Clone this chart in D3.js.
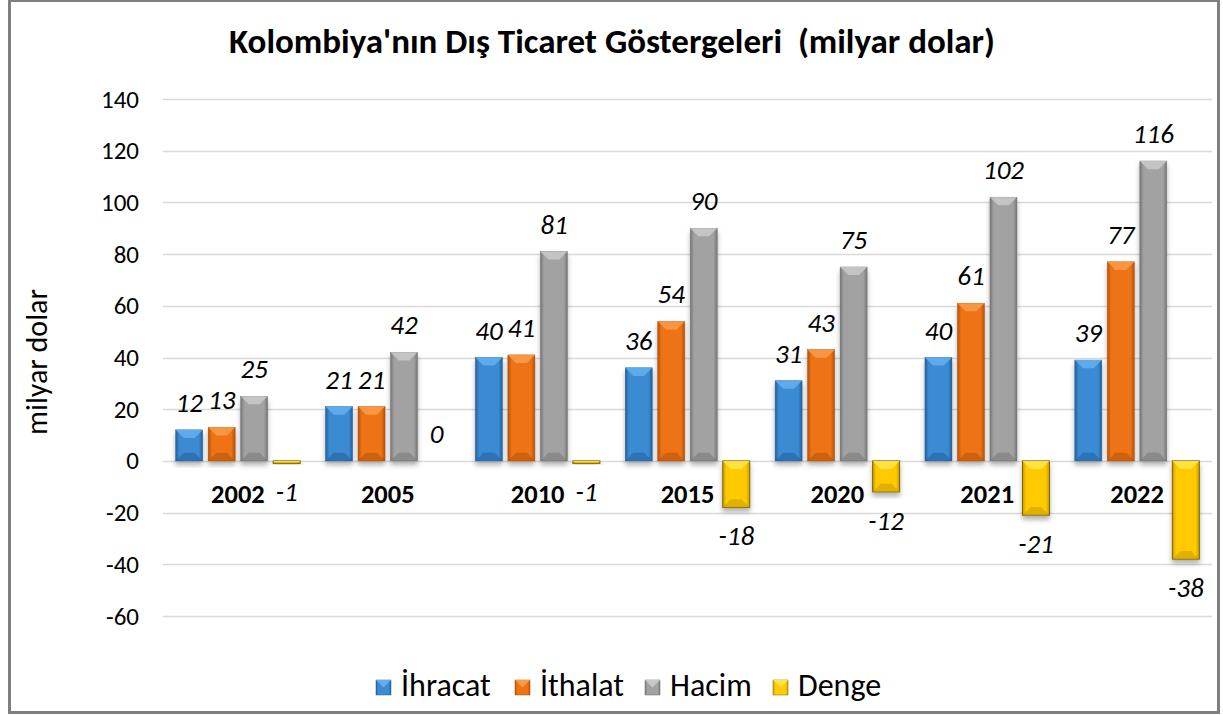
<!DOCTYPE html>
<html>
<head>
  <meta charset="utf-8">
  <title>Kolombiya'nın Dış Ticaret Göstergeleri</title>
  <script src="https://d3js.org/d3.v7.min.js"></script>
  <style>
    body { margin: 0; background: #fff; }
    text { font-family: Carlito, Calibri, Lato, sans-serif; }
  </style>
</head>
<body>

<div id="chart"></div>

<script>
// Data
const years = ["2002", "2005", "2010", "2015", "2020", "2021", "2022"];
const seriesNames = ["İhracat", "İthalat", "Hacim", "Denge"];
const ihracat = [12, 21, 40, 36, 31, 40, 39];
const ithalat = [13, 21, 41, 54, 43, 61, 77];
const hacim = [25, 42, 81, 90, 75, 102, 116];
const denge = [-1, 0, -1, -18, -12, -21, -38];
const yTicks = [-60, -40, -20, 0, 20, 40, 60, 80, 100, 120, 140];

const seriesValues = [ihracat, ithalat, hacim, denge];
const colors = [
  { base: "#3b8bd2", light: "#62aeee", dark: "#235f9c", edge: "#2a5f93" },
  { base: "#ee7312", light: "#fa9a48", dark: "#b5520a", edge: "#a84e0c" },
  { base: "#a2a2a2", light: "#c8c8c8", dark: "#777777", edge: "#6e6e6e" },
  { base: "#ffcb00", light: "#ffe347", dark: "#c89c00", edge: "#806300" }
];

const W = 1223, H = 715;
const plot = { left: 163, right: 1212, top: 99, bottom: 616 };

const svg = d3.select("#chart")
  .append("svg")
  .attr("width", W)
  .attr("height", H);

const defs = svg.append("defs");
colors.forEach((c, i) => {
  const g = defs.append("linearGradient")
    .attr("id", "grad" + i)
    .attr("x1", "0%").attr("x2", "100%").attr("y1", "0%").attr("y2", "0%");
  [[0, c.dark], [0.14, c.base], [0.5, c.base], [0.86, c.base], [1, c.dark]]
    .forEach(s => g.append("stop").attr("offset", s[0]).attr("stop-color", s[1]));
});
const shadow = defs.append("filter").attr("id", "shadow")
  .attr("x", "-30%").attr("y", "-10%").attr("width", "160%").attr("height", "130%");
shadow.append("feDropShadow")
  .attr("dx", 0).attr("dy", 4).attr("stdDeviation", 2.5)
  .attr("flood-color", "#000").attr("flood-opacity", 0.3);

// chart border
svg.append("rect")
  .attr("x", 9.5).attr("y", 0.5)
  .attr("width", 1209).attr("height", 712)
  .attr("fill", "none")
  .attr("stroke", "#7f7f7f")
  .attr("stroke-width", 3);

// title
svg.append("text")
  .attr("x", 612).attr("y", 53)
  .attr("text-anchor", "middle")
  .attr("font-size", 35)
  .attr("font-weight", "bold")
  .attr("fill", "#000")
  .attr("xml:space", "preserve")
  .text("Kolombiya'nın Dış Ticaret Göstergeleri  (milyar dolar)");

const x = d3.scaleBand()
  .domain(years)
  .range([plot.left, plot.right]);

const xs = d3.scaleBand()
  .domain(seriesNames)
  .range([0, x.bandwidth()])
  .paddingInner(0.17)
  .paddingOuter(0.39);

const y = d3.scaleLinear()
  .domain([-60, 140])
  .range([plot.bottom, plot.top]);

// grid lines
svg.append("g")
  .selectAll("line")
  .data(yTicks)
  .join("line")
  .attr("x1", plot.left).attr("x2", plot.right)
  .attr("y1", d => Math.round(y(d)) + 0.5)
  .attr("y2", d => Math.round(y(d)) + 0.5)
  .attr("stroke", "#d9d9d9")
  .attr("stroke-width", 1.3);

// y axis labels
const yAxis = svg.append("g")
  .attr("transform", `translate(${plot.left}, 0)`)
  .call(d3.axisLeft(y).tickValues(yTicks).tickFormat(d => String(d)).tickSize(0).tickPadding(24));
yAxis.select(".domain").remove();
yAxis.selectAll("text")
  .attr("font-size", 25)
  .attr("font-family", "Carlito, Calibri, Lato, sans-serif")
  .attr("fill", "#000");

svg.append("text")
  .attr("transform", "translate(47, 362) rotate(-90)")
  .attr("text-anchor", "middle")
  .attr("font-size", 30)
  .attr("fill", "#000")
  .text("milyar dolar");

// bars
const rows = [];
years.forEach((yr, i) => {
  seriesNames.forEach((s, k) => {
    rows.push({ year: yr, series: s, k: k, value: seriesValues[k][i] });
  });
});

const groups = svg.append("g")
  .selectAll("g")
  .data(rows)
  .join("g")
  .attr("transform", d => `translate(${x(d.year) + xs(d.series)}, 0)`);

const bw = xs.bandwidth();

groups.filter(d => d.value !== 0).each(function(d) {
  const g = d3.select(this);
  const c = colors[d.k];
  const y0 = Math.min(y(d.value), y(0));
  const y1 = Math.max(y(d.value), y(0));
  const h = Math.max(y1 - y0, 2);
  g.append("rect")
    .attr("x", 0).attr("y", y0)
    .attr("width", bw).attr("height", h)
    .attr("fill", `url(#grad${d.k})`)
    .attr("stroke", c.edge)
    .attr("stroke-width", d.k === 3 ? 1 : 0.5)
    .attr("filter", "url(#shadow)");
  const b = Math.min(bw * 0.3, h / 2);
  // top bevel
  g.append("path")
    .attr("d", `M0,${y0} L${bw},${y0} L${bw - b},${y0 + b} L${b},${y0 + b} Z`)
    .attr("fill", c.light)
    .attr("opacity", 0.9);
  // bottom bevel
  g.append("path")
    .attr("d", `M0,${y0 + h} L${bw},${y0 + h} L${bw - b},${y0 + h - b} L${b},${y0 + h - b} Z`)
    .attr("fill", c.dark)
    .attr("opacity", 0.55);
});

// value labels
groups.append("text")
  .attr("x", bw / 2)
  .attr("y", d => d.value >= 0 ? y(d.value) - 18 : y(d.value) + 38)
  .attr("text-anchor", "middle")
  .attr("font-size", 27)
  .attr("font-style", "italic")
  .attr("fill", "#000")
  .text(d => d.value);

// category labels
svg.append("g")
  .selectAll("text")
  .data(years)
  .join("text")
  .attr("x", d => x(d) + x.bandwidth() / 2)
  .attr("y", 503)
  .attr("text-anchor", "middle")
  .attr("font-size", 26.5)
  .attr("font-weight", "bold")
  .attr("fill", "#000")
  .text(d => d);

// legend
const legendX = [376, 515, 645, 773];
const legend = svg.append("g")
  .selectAll("g")
  .data(seriesNames)
  .join("g")
  .attr("transform", (d, i) => `translate(${legendX[i]}, 680)`);
legend.append("rect")
  .attr("width", 15).attr("height", 15)
  .attr("fill", (d, i) => `url(#grad${i})`)
  .attr("stroke", (d, i) => colors[i].edge)
  .attr("stroke-width", 0.5);
legend.append("path")
  .attr("d", "M0,0 L15,0 L7.5,7.5 Z")
  .attr("fill", (d, i) => colors[i].light);
legend.append("text")
  .attr("x", 25).attr("y", 16)
  .attr("font-size", 32)
  .attr("fill", "#000")
  .text(d => d);
</script>

</body>
</html>
